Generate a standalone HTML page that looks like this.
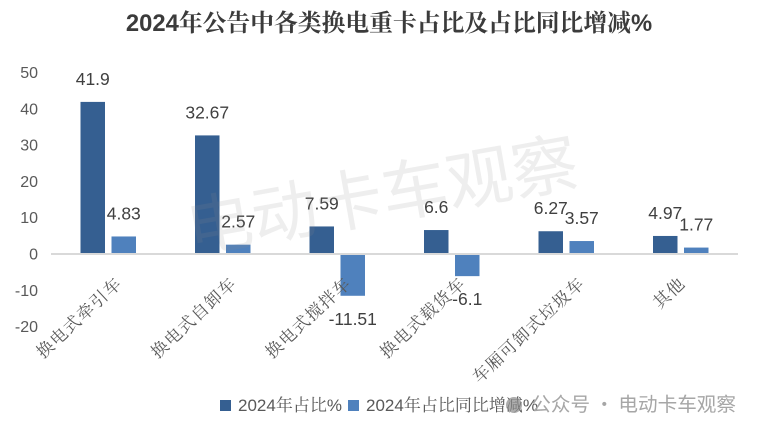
<!DOCTYPE html>
<html lang="zh">
<head>
<meta charset="utf-8">
<title>2024年公告中各类换电重卡占比及占比同比增减%</title>
<style>
html,body{margin:0;padding:0;background:#fff;}
#chart{display:block;width:760px;height:435px;}
</style>
</head>
<body>
<svg id="chart" xmlns="http://www.w3.org/2000/svg" width="760" height="435" viewBox="0 0 760 435">
  <rect x="0" y="0" width="760" height="435" fill="#ffffff"/>
  <text x="389" y="31" text-anchor="middle" font-size="23.8" font-weight="700" fill="#3b3b3b" font-family="'Liberation Sans','Noto Serif CJK SC',serif">2024<tspan font-family="'Noto Serif CJK SC',serif">年公告中各类换电重卡占比及占比同比增减</tspan>%</text>
  <g id="y-axis"></g>
  <g id="bars"></g>
  <line x1="51" x2="738" y1="254" y2="254" stroke="#d9d9d9" stroke-width="2"/>
  <g id="x-axis"></g>
  <g id="value-labels"></g>
  <text transform="translate(191,253) rotate(-10)" font-size="66" fill="#8c8c8c" fill-opacity="0.15" font-family="'Noto Sans CJK SC',sans-serif">电动卡车观察</text>
  <g>
    <rect x="220" y="400" width="11" height="11" fill="#355f91"/>
    <text x="238" y="411" font-size="17" fill="#595959" font-family="'Liberation Sans','Noto Serif CJK SC',serif">2024年占比%</text>
    <rect x="348" y="400" width="11" height="11" fill="#4f81bd"/>
    <text x="366" y="411" font-size="17" fill="#595959" font-family="'Liberation Sans','Noto Serif CJK SC',serif">2024年占比同比增减%</text>
  </g>
  <g>
    <circle cx="514" cy="405" r="8" fill="#8a8a8a" fill-opacity="0.7"/>
    <text x="736" y="411" text-anchor="end" font-size="19.6" fill="#a6a6a6" font-family="'Noto Sans CJK SC',sans-serif">公众号 · 电动卡车观察</text>
  </g>
</svg>
<script>
const categories = ["换电式牵引车", "换电式自卸车", "换电式搅拌车", "换电式载货车", "车厢可卸式垃圾车", "其他"];
const shareValues = [41.9, 32.67, 7.59, 6.6, 6.27, 4.97];
const changeValues = [4.83, 2.57, -11.51, -6.1, 3.57, 1.77];
const shareLabels = ["41.9", "32.67", "7.59", "6.6", "6.27", "4.97"];
const changeLabels = ["4.83", "2.57", "-11.51", "-6.1", "3.57", "1.77"];
const yTicks = [50, 40, 30, 20, 10, 0, -10, -20];

const NS = "http://www.w3.org/2000/svg";
const plotLeft = 51, plotWidth = 687, zeroY = 254, pxPerUnit = 3.63;
const barWidth = 24.5, barOffset = 15.5, labelGap = 23;
const SANS = "'Liberation Sans',sans-serif";
const CJK = "'Noto Serif CJK SC',serif";

function yScale(v) { return zeroY - v * pxPerUnit; }
function xScale(i) { return plotLeft + plotWidth / categories.length * (i + 0.5); }
function make(tag, attrs, parent, text) {
  const el = document.createElementNS(NS, tag);
  for (const k in attrs) el.setAttribute(k, attrs[k]);
  if (text !== undefined) el.textContent = text;
  parent.appendChild(el);
  return el;
}

const yAxis = document.getElementById("y-axis");
const bars = document.getElementById("bars");
const xAxis = document.getElementById("x-axis");
const valueLabels = document.getElementById("value-labels");

yTicks.forEach(function (t) {
  const el = make("text", {x: 38, y: yScale(t) + 5.5, "text-anchor": "end", "font-size": 16, fill: "#595959", "font-family": SANS}, yAxis, String(t));
  
  
});

function drawBar(value, cx, color, seriesName) {
  const top = value >= 0 ? yScale(value) : zeroY + 1;
  const bottom = value >= 0 ? zeroY - 1 : yScale(value);
  const el = make("rect", {x: cx - barWidth / 2, y: top, width: barWidth, height: Math.max(0, bottom - top), fill: color}, bars);
  
  
}

function drawValue(value, label, cx) {
  const cy = value >= 0 ? yScale(value) - labelGap : yScale(value) + labelGap;
  const el = make("text", {x: cx, y: cy + 6, "text-anchor": "middle", "font-size": 17.5, fill: "#404040", "font-family": SANS}, valueLabels, label);
  
  
}

categories.forEach(function (name, i) {
  const c = xScale(i);
  drawBar(shareValues[i], c - barOffset, "#355f91", "bar-share");
  drawBar(changeValues[i], c + barOffset, "#4f81bd", "bar-change");
  drawValue(shareValues[i], shareLabels[i], c - barOffset);
  drawValue(changeValues[i], changeLabels[i], c + barOffset);

  const ex = c + name.length * 2.3 - 8 + 4;
  const ey = 285 - 5.8;
  const tick = make("text", {
    transform: "translate(" + ex + "," + ey + ") rotate(-43)",
    "text-anchor": "end", "dominant-baseline": "central",
    "font-size": 17, "letter-spacing": 1.2, fill: "#595959", "font-family": CJK
  }, xAxis, name);
  
  
});
</script>
</body>
</html>
